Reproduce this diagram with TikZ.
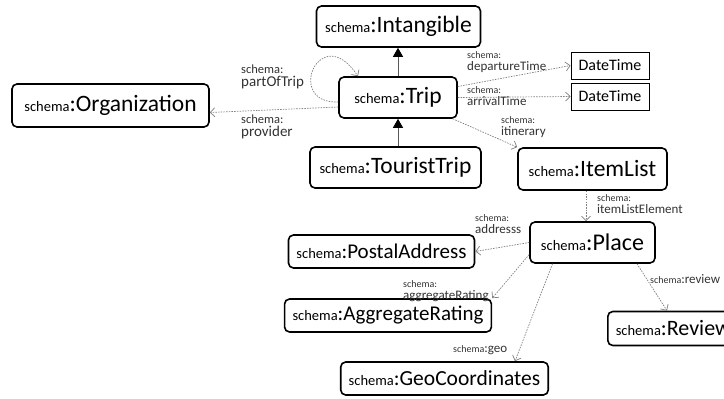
\documentclass[tikz,border=0pt]{standalone}
\usepackage{fontspec}
\setmainfont{Carlito}
\usetikzlibrary{arrows.meta}

% class label: small prefix, large local name
\newcommand{\cls}[2][23.5]{{\fontsize{14.5}{16}\selectfont schema}{\fontsize{#1}{#1}\selectfont :#2}}
\newcommand{\pre}[1][10]{{\fontsize{#1}{#1}\selectfont schema:}}

\begin{document}
\begin{tikzpicture}[x=1pt,y=-1pt,
  cls/.style={draw,line width=1.6pt,rounded corners=5pt,minimum height=41pt,inner xsep=8pt,inner ysep=0pt},
  clsb/.style={cls,minimum height=33pt},
  lit/.style={draw,line width=0.9pt,minimum height=27pt,minimum width=78pt,inner sep=0pt,font=\fontsize{16}{16}\selectfont},
  prop/.style={inner sep=0pt,align=left,anchor=north west,text=black!80,font=\fontsize{13}{12}\selectfont},
  propl/.style={prop,font=\fontsize{15}{13}\selectfont},
  rel/.style={gray,line width=0.7pt,dash pattern=on 1.5pt off 1.2pt,-{Straight Barb[length=4.5pt,width=9pt,line width=0.7pt]}},
  isa/.style={black!65,line width=0.9pt,-{Triangle[length=9pt,width=10pt,color=black]}}]
  \fill[white] (0,0) rectangle (724,399);
  \useasboundingbox (0,0) rectangle (724,399);

  % classes
  \node[cls,minimum width=164pt] (int) at (398.5,26.5) {\cls{Intangible}};
  \node[cls,minimum width=118pt] (trip) at (398,97.5) {\cls{Trip}};
  \node[cls,minimum width=197pt,minimum height=43pt] (org) at (110.5,105.5) {\cls{Organization}};
  \node[cls,minimum width=171pt] (tour) at (395.5,167.5) {\cls{TouristTrip}};
  \node[cls,minimum width=149pt,minimum height=42pt] (list) at (592.5,169) {\cls{ItemList}};
  \node[cls,minimum width=125pt] (place) at (592.5,242.5) {\cls[24]{Place}};
  \node[clsb,minimum width=183pt] (postal) at (381.5,251.5) {\cls[21]{PostalAddress}};
  \node[clsb,minimum width=206pt] (agg) at (388,315.5) {\cls[21]{AggregateRating}};
  \node[clsb,minimum width=201pt] (geo) at (444.5,378.5) {\cls[21.5]{GeoCoordinates}};
  \node[clsb,anchor=west,minimum height=34pt] (review) at (607,328.5) {\cls[22]{Review}};

  % literals
  \node[lit] (dt1) at (610,65.5) {DateTime};
  \node[lit] (dt2) at (610,96.5) {DateTime};

  % subclass links
  \draw[isa] (trip.north) -- (trip.north |- int.south);
  \draw[isa] (trip.south |- tour.north) -- (trip.south);

  % properties
  \draw[rel] ([yshift=-4.5pt]trip.west) .. controls +(-54,2) and +(-38,-57) .. ([xshift=-40pt]trip.north);
  \draw[rel] ([yshift=-9.5pt]trip.west) -- ([yshift=-7pt]org.east);
  \draw[rel] ([yshift=11pt]trip.east) -- (dt1.west);
  \draw[rel] (trip.east) -- (dt2.west);
  \draw[rel] ([xshift=-5pt]trip.south east) -- (list.north west);
  \draw[rel] ([xshift=-6.5pt]list.south) -- ([xshift=-6.5pt]place.north);
  \draw[rel] (place.west) -- (postal.east);
  \draw[rel] ([yshift=-12pt]place.west) -- (agg.north east);
  \draw[rel] ([xshift=-40pt]place.south) -- ([xshift=70.5pt]geo.north);
  \draw[rel] ([xshift=44.5pt]place.south) -- ([xshift=60pt]review.north west);

  % property labels
  \node[propl] (lpart) at (241,65) {\pre[12.5]\\partOfTrip};
  \node[propl] (lprov) at (241,115) {\pre[12.5]\\provider};
  \node[prop] (ldep) at (467,51) {\pre\\departureTime};
  \node[prop] (larr) at (467,86) {\pre\\arrivalTime};
  \node[prop] (litin) at (501,116) {\pre\\itinerary};
  \node[prop] (lelem) at (597,194) {\pre\\itemListElement};
  \node[prop] (laddr) at (475,214) {\pre\\addresss};
  \node[prop] (lagg) at (403,280) {\pre\\aggregateRating};
  \node[prop,anchor=west] (lgeo) at (453,350) {{\fontsize{10}{10}\selectfont schema}:geo};
  \node[prop,anchor=west] (lrev) at (650,279) {{\fontsize{10}{10}\selectfont schema}:review};
\end{tikzpicture}
\end{document}
